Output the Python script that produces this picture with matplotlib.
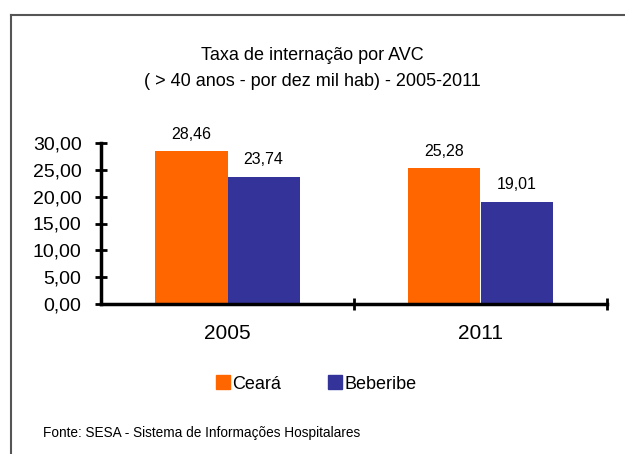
import numpy as np
import matplotlib
matplotlib.use("Agg")
from matplotlib import pyplot as plt
from matplotlib.patches import Patch
from matplotlib.lines import Line2D

plt.rcParams['font.family'] = ['Liberation Sans', 'DejaVu Sans']

years = ['2005', '2011']
series_names = ['Ceará', 'Beberibe']
ceara = [28.46, 25.28]
beberibe = [23.74, 19.01]
value_labels = [['28,46', '25,28'], ['23,74', '19,01']]
yticks = [0, 5, 10, 15, 20, 25, 30]
ytick_labels = ['0,00', '5,00', '10,00', '15,00', '20,00', '25,00', '30,00']
colors = ['#FF6600', '#333399']

fig = plt.figure(figsize=(6.25, 4.54), dpi=100)

# outer frame (top and left only, as in the source)
fig.add_artist(Line2D([11 / 625, 11 / 625], [0, 1 - 15 / 454], color='#555555', lw=1.5))
fig.add_artist(Line2D([11 / 625, 1], [1 - 15 / 454, 1 - 15 / 454], color='#555555', lw=1.5))

ax = fig.add_axes([101 / 625, 1 - 304 / 454, 506 / 625, 161 / 454])
x = np.arange(len(years))
w = 0.285
for i, vals in enumerate([ceara, beberibe]):
    pos = x - w / 2 + i * w
    ax.bar(pos, vals, width=w, color=colors[i], edgecolor='none')
    for p, v, lab in zip(pos, vals, value_labels[i]):
        ax.text(p, v + 1.8, lab, ha='center', va='bottom', fontsize=11.5)

ax.set_xlim(-0.5, 1.5)
ax.set_ylim(0, 30)
ax.set_yticks(yticks)
ax.set_yticklabels(ytick_labels, fontsize=14)
ax.set_xticks([0.5, 1.5])
ax.set_xticklabels([])
ax.tick_params(axis='both', direction='inout', length=8, width=2)
ax.tick_params(axis='y', pad=10)
for i, yr in enumerate(years):
    ax.text(i, -3.8, yr, ha='center', va='top', fontsize=15)
for s in ['top', 'right']:
    ax.spines[s].set_visible(False)
ax.spines['left'].set_linewidth(2.5)
ax.spines['bottom'].set_linewidth(2.5)

fig.text(0.5, 1 - 55 / 454, 'Taxa de internação por AVC', ha='center', va='center', fontsize=13)
fig.text(0.5, 1 - 81 / 454, '( > 40 anos - por dez mil hab) - 2005-2011', ha='center', va='center', fontsize=13)

handles = [Patch(color=c) for c in colors]
fig.legend(handles, series_names, loc='center', bbox_to_anchor=(0.506, 1 - 384 / 454),
           ncol=2, frameon=False, fontsize=13, handlelength=0.75, handleheight=0.8,
           handletextpad=0.15, columnspacing=2.6)

fig.text(43 / 625, 1 - 433 / 454, 'Fonte: SESA - Sistema de Informações Hospitalares',
         ha='left', va='center', fontsize=9.8)

fig.savefig('out.png', dpi=100)
